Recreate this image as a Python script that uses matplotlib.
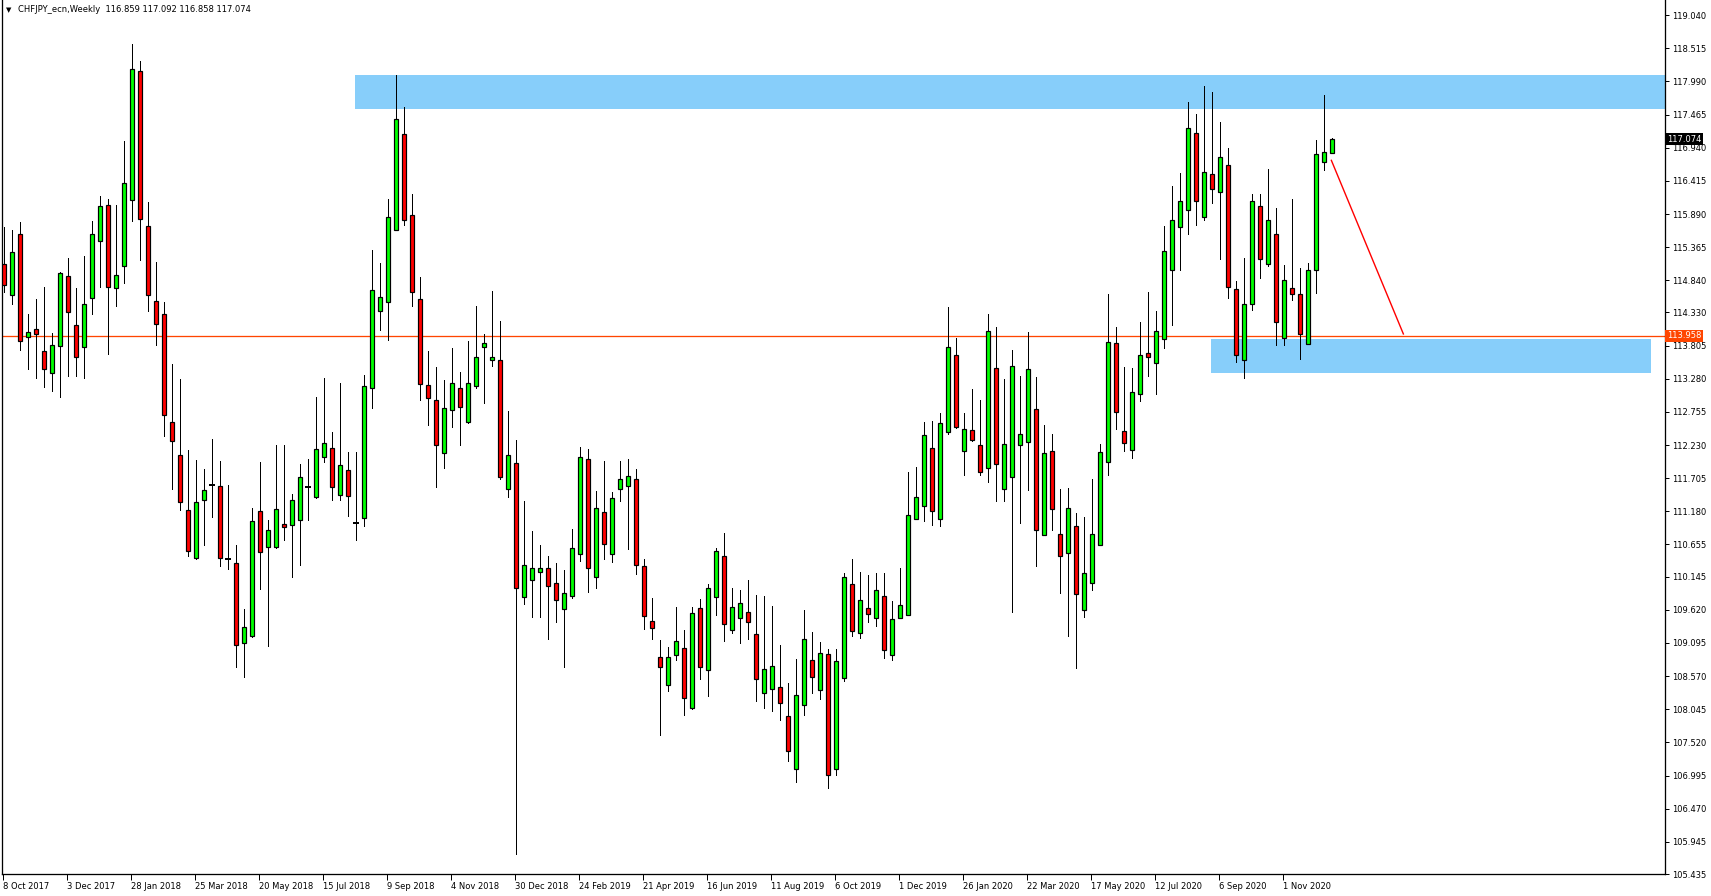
import numpy as np
import matplotlib.pyplot as plt
from matplotlib.patches import Rectangle
import matplotlib.transforms as mtransforms

W, H = 1711, 896

# weekly CHFJPY candles, Oct 2017 .. Dec 2020
opens = [115.10, 114.61, 115.58, 113.94, 114.07, 113.72, 113.37, 113.80, 114.91, 114.13,
         113.79, 114.56, 115.47, 116.03, 114.71, 115.06, 116.11, 118.15, 115.70, 114.51,
         114.31, 112.59, 112.08, 111.20, 110.44, 111.36, 111.60, 111.58, 110.42, 110.36,
         109.09, 109.20, 111.19, 110.61, 110.61, 110.98, 110.96, 111.05, 111.57, 111.41,
         112.04, 112.18, 111.44, 111.84, 111.00, 111.08, 113.13, 114.35, 114.49, 115.64,
         117.15, 115.88, 114.55, 113.18, 112.95, 112.10, 112.78, 113.13, 112.59, 113.16,
         113.78, 113.58, 113.57, 111.53, 111.94, 109.82, 110.09, 110.22, 110.28, 110.04,
         109.63, 109.84, 110.50, 112.01, 110.14, 111.17, 110.50, 111.53, 111.58, 111.70,
         110.31, 109.44, 108.87, 108.43, 108.90, 109.01, 108.06, 109.65, 108.66, 109.82,
         110.47, 109.30, 109.49, 109.58, 109.23, 108.31, 108.36, 108.39, 107.93, 107.10,
         108.12, 108.82, 108.35, 108.92, 107.10, 108.54, 110.03, 109.25, 109.65, 109.49,
         109.84, 108.90, 109.49, 109.53, 111.06, 111.26, 112.18, 111.06, 112.43, 113.65,
         112.13, 112.47, 112.23, 111.86, 113.45, 111.53, 111.72, 112.23, 112.28, 112.80,
         110.80, 112.13, 110.82, 110.52, 110.94, 109.61, 110.05, 110.64, 111.96, 113.84,
         112.45, 112.15, 113.04, 113.69, 113.53, 113.91, 115.00, 115.69, 115.96, 117.17,
         115.85, 116.52, 116.24, 116.66, 114.70, 113.57, 114.47, 116.01, 115.10, 115.57,
         113.93, 114.71, 114.63, 113.83, 115.00, 116.71, 116.859]
highs = [115.68, 115.64, 115.76, 114.30, 114.54, 114.73, 114.01, 114.97, 115.19, 114.72,
         115.22, 115.78, 116.18, 116.12, 116.04, 117.05, 118.58, 118.31, 116.08, 115.13,
         114.50, 113.52, 113.28, 112.15, 112.00, 111.85, 112.32, 111.98, 111.60, 110.65,
         109.64, 111.24, 111.96, 111.05, 112.23, 112.23, 111.45, 111.93, 112.01, 112.99,
         113.30, 112.43, 113.22, 112.12, 112.12, 113.34, 115.32, 115.12, 116.13, 118.09,
         117.59, 116.20, 114.89, 113.72, 113.46, 113.26, 113.77, 113.38, 113.88, 114.44,
         113.99, 114.67, 114.20, 112.77, 112.31, 111.35, 110.87, 110.65, 110.47, 110.36,
         110.25, 110.90, 112.20, 112.17, 111.50, 111.98, 111.49, 111.98, 112.01, 111.85,
         110.43, 109.81, 109.14, 109.03, 109.67, 109.30, 109.67, 109.79, 110.03, 110.60,
         110.84, 109.97, 109.94, 110.09, 109.86, 109.84, 109.68, 109.06, 108.46, 108.84,
         109.62, 109.27, 109.11, 109.00, 109.00, 110.20, 110.43, 110.22, 110.17, 110.21,
         110.21, 109.76, 110.28, 111.81, 111.89, 112.60, 112.61, 112.74, 114.42, 113.93,
         112.74, 113.12, 112.95, 114.31, 114.10, 113.28, 113.74, 113.33, 114.02, 113.31,
         112.55, 112.41, 111.54, 111.55, 111.15, 111.09, 111.69, 112.25, 114.63, 114.10,
         113.47, 113.45, 114.18, 114.66, 114.35, 115.70, 116.34, 116.54, 117.67, 117.47,
         117.91, 117.83, 117.34, 116.94, 114.83, 115.20, 116.21, 116.21, 116.61, 115.98,
         115.08, 116.12, 115.04, 115.12, 117.06, 117.78, 117.092]
lows = [114.66, 114.46, 113.74, 113.43, 113.30, 113.15, 113.09, 112.99, 113.32, 113.32,
        113.30, 114.31, 114.74, 113.68, 114.44, 114.80, 115.78, 115.16, 114.36, 113.81,
        112.37, 111.53, 111.20, 110.47, 110.43, 110.65, 111.09, 110.32, 110.27, 108.71,
        108.55, 109.19, 109.95, 109.05, 110.60, 110.73, 110.14, 110.33, 111.04, 111.39,
        111.96, 111.36, 111.36, 111.10, 110.73, 110.94, 112.81, 114.05, 113.89, 115.64,
        115.72, 114.43, 112.94, 112.54, 111.57, 111.87, 112.51, 112.23, 112.58, 113.13,
        112.89, 113.49, 111.69, 111.40, 105.75, 109.71, 109.51, 109.50, 109.15, 109.43,
        108.72, 109.80, 110.40, 109.91, 109.96, 110.43, 110.38, 111.35, 110.59, 110.19,
        109.31, 109.16, 107.63, 108.34, 108.82, 107.95, 108.05, 108.52, 108.25, 109.54,
        109.12, 109.26, 109.10, 109.16, 108.17, 108.06, 108.01, 107.87, 107.22, 106.89,
        107.95, 108.30, 108.20, 106.80, 107.00, 108.50, 109.20, 109.17, 109.43, 109.36,
        108.86, 108.83, 109.49, 109.53, 111.06, 111.03, 110.96, 110.94, 112.41, 112.50,
        111.76, 112.29, 111.76, 111.65, 111.35, 111.35, 109.58, 111.00, 111.52, 110.32,
        110.80, 110.89, 109.89, 109.20, 108.70, 109.50, 109.93, 110.64, 111.76, 112.49,
        112.13, 112.02, 112.92, 113.33, 113.04, 113.76, 114.13, 115.00, 115.58, 115.72,
        115.80, 116.07, 115.17, 114.56, 113.55, 113.30, 114.37, 114.88, 115.06, 113.81,
        113.82, 114.52, 113.60, 113.83, 114.64, 116.58, 116.858]
closes = [114.76, 115.29, 113.88, 114.02, 113.99, 113.43, 113.81, 114.95, 114.34, 113.62,
          114.46, 115.58, 116.02, 114.74, 114.92, 116.38, 118.19, 115.81, 114.60, 114.14,
          112.71, 112.29, 111.33, 110.55, 111.33, 111.52, 111.60, 110.44, 110.42, 109.07,
          109.34, 111.03, 110.53, 110.89, 111.21, 110.93, 111.36, 111.73, 111.57, 112.16,
          112.27, 111.56, 111.91, 111.43, 111.00, 113.16, 114.69, 114.58, 115.85, 117.39,
          115.79, 114.65, 113.19, 112.98, 112.23, 112.81, 113.21, 112.83, 113.21, 113.63,
          113.84, 113.62, 111.72, 112.07, 109.97, 110.33, 110.28, 110.29, 110.00, 109.77,
          109.88, 110.60, 112.04, 110.29, 111.23, 110.67, 111.39, 111.69, 111.74, 110.33,
          109.52, 109.33, 108.71, 108.88, 109.12, 108.22, 109.57, 108.71, 109.96, 110.55,
          109.39, 109.66, 109.72, 109.42, 108.52, 108.68, 108.73, 108.14, 107.38, 108.27,
          109.15, 108.56, 108.93, 107.00, 108.81, 110.14, 109.28, 109.77, 109.55, 109.93,
          108.98, 109.47, 109.69, 111.12, 111.40, 112.39, 111.18, 112.58, 113.78, 112.52,
          112.48, 112.31, 111.80, 114.03, 111.93, 112.24, 113.49, 112.40, 113.43, 110.88,
          112.10, 111.22, 110.47, 111.23, 109.87, 110.21, 110.82, 112.12, 113.87, 112.76,
          112.26, 113.07, 113.65, 113.62, 114.03, 115.30, 115.79, 116.09, 117.25, 116.09,
          116.55, 116.29, 116.79, 114.74, 113.65, 114.47, 116.10, 115.18, 115.79, 114.18,
          114.84, 114.63, 113.99, 115.01, 116.84, 116.87, 117.074]

date_labels = ["8 Oct 2017", "3 Dec 2017", "28 Jan 2018", "25 Mar 2018", "20 May 2018",
               "15 Jul 2018", "9 Sep 2018", "4 Nov 2018", "30 Dec 2018", "24 Feb 2019",
               "21 Apr 2019", "16 Jun 2019", "11 Aug 2019", "6 Oct 2019", "1 Dec 2019",
               "26 Jan 2020", "22 Mar 2020", "17 May 2020", "12 Jul 2020", "6 Sep 2020",
               "1 Nov 2020"]
price_ticks = [119.040, 118.515, 117.990, 117.465, 116.940, 116.415, 115.890, 115.365,
               114.840, 114.330, 113.805, 113.280, 112.755, 112.230, 111.705, 111.180,
               110.655, 110.145, 109.620, 109.095, 108.570, 108.045, 107.520, 106.995,
               106.470, 105.945, 105.435]

resist_zone = [117.554, 118.093]
support_zone = [113.371, 113.910]
level = 113.958
last_price = 117.074
trend_prices = [116.74, 113.99]

BULL = '#00ff00'
BEAR = '#ff0000'
ZONE = '#87cefa'
LEVEL = '#ff4500'
PX = 0.72  # one pixel in points


def plot():
    fig = plt.figure(figsize=(W / 100, H / 100), dpi=100)
    ax = fig.add_axes([2 / W, 22 / H, 1663 / W, 874 / H])
    ax.set_xlim(-0.25, 207.6)
    ax.set_ylim(105.435, 119.28)

    o = np.array(opens)
    h = np.array(highs)
    l = np.array(lows)
    c = np.array(closes)
    x = np.arange(len(o))

    # zones and level line behind the candles
    ax.add_patch(Rectangle((43.9, resist_zone[0]), 170, resist_zone[1] - resist_zone[0],
                           fc=ZONE, ec='none', zorder=1))
    ax.add_patch(Rectangle((150.9, support_zone[0]), 55.0, support_zone[1] - support_zone[0],
                           fc=ZONE, ec='none', zorder=1))
    ax.axhline(level, color=LEVEL, lw=PX * 1.3, zorder=1.5)

    ax.vlines(x, l, h, color='black', lw=PX, zorder=2, antialiased=False)
    doji = np.abs(c - o) < 0.005
    body = ~doji
    up = (c > o) & body
    dn = (c < o) & body
    for m, col in ((up, BULL), (dn, BEAR)):
        ax.bar(x[m], (c - o)[m], bottom=o[m], width=0.58, color=col,
               edgecolor='black', linewidth=PX * 1.2, zorder=3)
    ax.hlines(o[doji], x[doji] - 0.35, x[doji] + 0.35, color='black', lw=PX * 2, zorder=3)

    # trend line from the last bar
    n = len(o)
    ax.plot([n - 1.1, n + 7.9], trend_prices, color='red', lw=PX * 1.4, zorder=4)

    ax.spines['top'].set_visible(False)
    for s in ['left', 'bottom', 'right']:
        ax.spines[s].set_linewidth(PX * 1.3)
        ax.spines[s].set_color('black')

    ax.yaxis.tick_right()
    ax.set_yticks(price_ticks)
    ax.set_yticklabels([f"{p:.3f}" for p in price_ticks])
    ax.tick_params(axis='y', direction='out', length=3, width=PX, labelsize=6, pad=2)

    ax.set_xticks(np.arange(len(date_labels)) * 8 - 0.15)
    ax.set_xticklabels(date_labels, ha='left')
    ax.tick_params(axis='x', direction='out', length=4, width=PX, labelsize=6, pad=1.5)

    tr = mtransforms.blended_transform_factory(ax.transAxes, ax.transData)
    ax.text(1.0012, last_price, f"{last_price:.3f}", transform=tr, color='white',
            fontsize=6, va='center', ha='left', clip_on=False, zorder=10,
            bbox=dict(boxstyle='square,pad=0.2', fc='black', ec='none'))
    ax.text(1.0012, level, f"{level:.3f}", transform=tr, color='white',
            fontsize=6, va='center', ha='left', clip_on=False, zorder=10,
            bbox=dict(boxstyle='square,pad=0.2', fc=LEVEL, ec='none'))

    fig.text(6 / W, 1 - 10 / H, "\u25bc", fontsize=5, va='center', ha='left')
    fig.text(18 / W, 1 - 10 / H,
             f"CHFJPY_ecn,Weekly  {opens[-1]:.3f} {highs[-1]:.3f} {lows[-1]:.3f} {closes[-1]:.3f}",
             fontsize=6, va='center', ha='left')

    fig.savefig('out.png', dpi=100)


def main():
    plot()
    return 0


if __name__ == "__main__":
    main()
